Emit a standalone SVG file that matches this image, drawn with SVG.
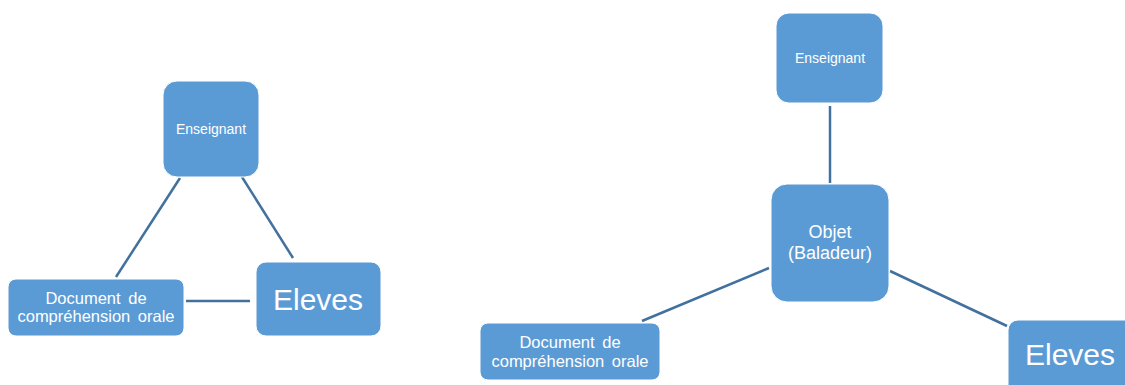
<svg xmlns="http://www.w3.org/2000/svg" width="1125" height="385" viewBox="0 0 1125 385">
<style>
.box{fill:#5B9BD5;stroke:#ffffff;stroke-width:1}
.t{fill:#ffffff;font-family:"Liberation Sans",Arial,sans-serif;text-anchor:middle}
.c{stroke:#41719C;stroke-width:2.5;fill:none}
</style>
<rect width="1125" height="385" fill="#ffffff"/>
<g id="connectors">
<line class="c" x1="180" y1="178" x2="116" y2="277"/>
<line class="c" x1="242" y1="177" x2="293" y2="258"/>
<line class="c" x1="186" y1="301" x2="250" y2="301"/>
<line class="c" x1="830" y1="106" x2="830" y2="183"/>
<line class="c" x1="769" y1="268" x2="642" y2="321"/>
<line class="c" x1="890" y1="271" x2="1007" y2="326"/>
</g>
<g id="left-enseignant">
<rect class="box" x="163" y="81" width="96" height="96" rx="14"/>
<text class="t" x="211" y="134" font-size="14">Enseignant</text>
</g>
<g id="left-document">
<rect class="box" x="8" y="279" width="176" height="57" rx="8"/>
<text class="t" x="96" y="304" font-size="16.5" word-spacing="3">Document de</text>
<text class="t" x="96" y="322" font-size="16.5" word-spacing="3">compréhension orale</text>
</g>
<g id="left-eleves">
<rect class="box" x="256" y="262" width="125" height="74" rx="10"/>
<text class="t" x="318" y="310" font-size="30">Eleves</text>
</g>
<g id="right-enseignant">
<rect class="box" x="776" y="13" width="107" height="90" rx="13"/>
<text class="t" x="830" y="63" font-size="14">Enseignant</text>
</g>
<g id="right-objet">
<rect class="box" x="771" y="184" width="118" height="118" rx="16"/>
<text class="t" x="830" y="238" font-size="18">Objet</text>
<text class="t" x="830" y="259" font-size="18">(Baladeur)</text>
</g>
<g id="right-document">
<rect class="box" x="480" y="323" width="180" height="57" rx="8"/>
<text class="t" x="570" y="348" font-size="16.5" word-spacing="3">Document de</text>
<text class="t" x="570" y="367" font-size="16.5" word-spacing="3">compréhension orale</text>
</g>
<g id="right-eleves">
<rect class="box" x="1008" y="320" width="130" height="80" rx="10"/>
<text class="t" x="1070" y="365" font-size="30">Eleves</text>
</g>
</svg>
